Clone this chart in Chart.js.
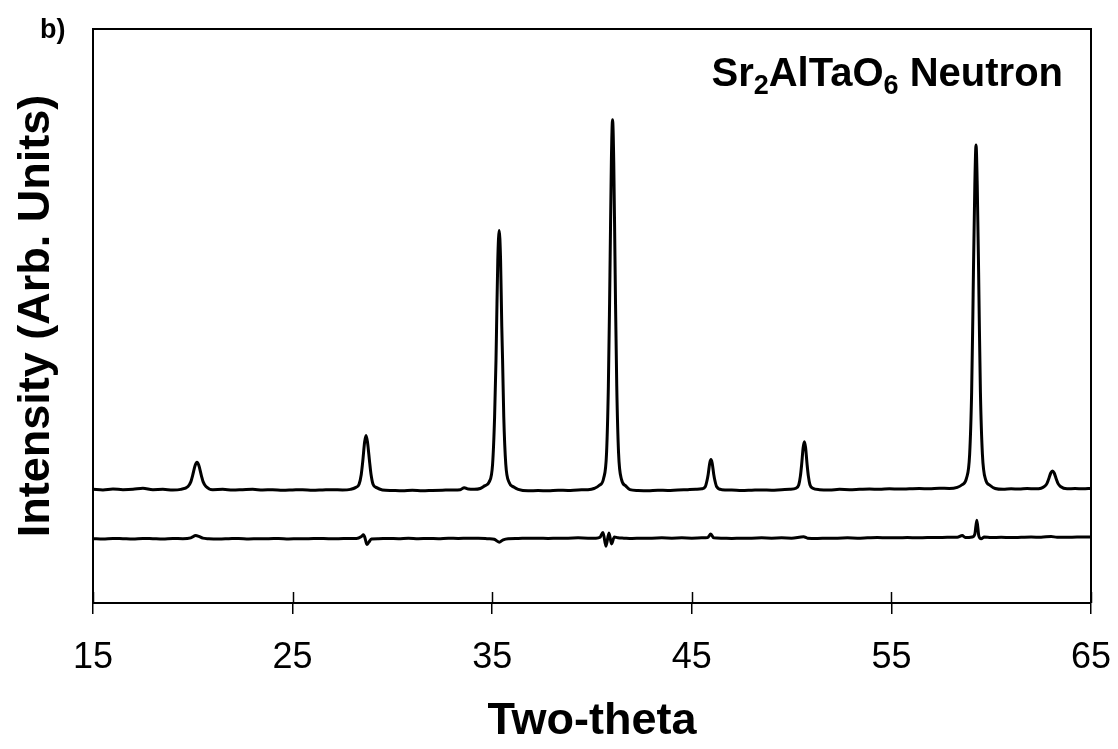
<!DOCTYPE html>
<html>
<head>
<meta charset="utf-8">
<script src="https://cdn.jsdelivr.net/npm/chart.js@4.4.0/dist/chart.umd.min.js"></script>
<style>
  html, body { margin: 0; padding: 0; background: #fff; }
  #wrap { width: 1118px; height: 749px; }
</style>
</head>
<body>
<div id="wrap"><canvas id="xrd"></canvas></div>
<script>
// Data (two-theta in degrees, intensity in arbitrary units)
const xTicks = [15, 25, 35, 45, 55, 65];

// observed neutron pattern
const obsX = [
  15.0, 15.5, 16.0, 16.5, 17.0, 17.5, 18.0, 18.5, 19.0, 19.4,
  19.76, 19.90, 19.99, 20.12, 20.21, 20.30, 20.43, 20.52, 20.66,
  21.0, 21.5, 22.0, 22.5, 23.0, 23.5, 24.0, 24.5, 25.0, 25.5, 26.0, 26.5, 27.0, 27.5, 27.9,
  28.15, 28.33, 28.44, 28.51, 28.61, 28.68, 28.75, 28.86, 28.93, 29.03, 29.21,
  29.5, 30.0, 30.5, 31.0, 31.5, 32.0, 32.5, 33.0, 33.4, 33.6, 33.8, 34.1, 34.4,
  34.62, 34.85, 35.02, 35.12, 35.19, 35.22, 35.28, 35.35, 35.42, 35.48, 35.52, 35.58, 35.68, 35.85, 36.08,
  36.3, 36.8, 37.3, 37.8, 38.3, 38.8, 39.3, 39.8, 40.1,
  40.37, 40.58, 40.73, 40.82, 40.88, 40.91, 40.97, 41.03, 41.09, 41.15, 41.18, 41.24, 41.33, 41.48, 41.69,
  41.9, 42.3, 42.8, 43.3, 43.8, 44.3, 44.8, 45.2, 45.5,
  45.68, 45.76, 45.82, 45.90, 45.96, 46.02, 46.10, 46.16, 46.24,
  46.5, 47.0, 47.5, 48.0, 48.5, 49.0, 49.5, 49.9,
  50.22, 50.36, 50.44, 50.50, 50.58, 50.64, 50.70, 50.78, 50.84, 50.92, 51.06,
  51.4, 51.9, 52.4, 52.9, 53.4, 53.9, 54.4, 54.9, 55.4, 55.9, 56.4, 56.9, 57.4, 57.9, 58.3,
  58.54, 58.76, 58.92, 59.02, 59.08, 59.11, 59.18, 59.24, 59.30, 59.37, 59.40, 59.46, 59.56, 59.72, 59.94,
  60.2, 60.6, 61.0, 61.4, 61.8, 62.2, 62.5,
  62.67, 62.79, 62.87, 62.99, 63.07, 63.15, 63.27, 63.35, 63.47,
  63.8, 64.2, 64.6, 65.0
];
const obsY = [
  19.8, 19.7, 19.85, 19.75, 19.8, 20.0, 19.75, 19.8, 19.7, 19.8,
  20.3, 21.1, 22.2, 24.0, 24.5, 24.0, 22.2, 21.1, 20.3,
  19.75, 19.8, 19.7, 19.75, 19.8, 19.7, 19.75, 19.65, 19.7, 19.75, 19.65, 19.7, 19.75, 19.7, 19.8,
  20.1, 20.7, 22.4, 24.5, 28.1, 29.2, 28.1, 24.5, 22.4, 20.7, 20.1,
  19.7, 19.6, 19.55, 19.65, 19.55, 19.6, 19.65, 19.7, 19.75, 20.1, 19.85, 19.8, 19.95,
  20.4, 21.1, 24.2, 32.4, 42.3, 48.2, 59.7, 64.9, 59.7, 48.2, 42.3, 32.4, 24.2, 21.0, 20.2,
  19.8, 19.55, 19.6, 19.55, 19.65, 19.6, 19.7, 19.75, 19.95,
  20.5, 21.7, 26.2, 37.8, 52.0, 60.4, 76.8, 84.2, 76.8, 60.4, 52.0, 37.8, 26.2, 21.5, 20.4,
  19.75, 19.6, 19.55, 19.65, 19.6, 19.7, 19.75, 19.8, 19.9,
  20.3, 21.3, 22.4, 24.4, 25.0, 24.4, 22.4, 21.3, 20.3,
  19.75, 19.7, 19.6, 19.65, 19.7, 19.65, 19.75, 19.8,
  20.0, 20.6, 22.1, 24.0, 27.1, 28.1, 27.1, 24.0, 22.1, 20.6, 20.0,
  19.75, 19.7, 19.8, 19.75, 19.8, 19.85, 19.8, 19.9, 19.85, 19.9, 19.95, 19.9, 20.0, 19.95, 20.15,
  20.6, 21.7, 25.9, 36.7, 49.9, 57.6, 72.9, 79.8, 72.9, 57.6, 49.9, 36.7, 25.9, 21.5, 20.5,
  19.95, 19.8, 19.9, 19.85, 19.95, 19.9, 20.0,
  20.3, 20.8, 21.5, 22.7, 23.0, 22.7, 21.5, 20.8, 20.3,
  19.9, 19.95, 19.9, 19.95
];

// observed minus calculated
const diffX = [
  15.0, 15.5, 16.0, 16.5, 17.0, 17.5, 18.0, 18.5, 19.0, 19.5, 19.9, 20.15, 20.3, 20.5, 20.8,
  21.3, 21.8, 22.3, 22.8, 23.3, 23.8, 24.3, 24.8, 25.3, 25.8, 26.3, 26.8, 27.3, 27.8, 28.2,
  28.45, 28.55, 28.63, 28.72, 28.82, 28.95,
  29.3, 29.8, 30.3, 30.8, 31.3, 31.8, 32.3, 32.8, 33.3, 33.8, 34.3, 34.8,
  35.1, 35.35, 35.55, 35.8,
  36.3, 36.8, 37.3, 37.8, 38.3, 38.8, 39.3, 39.8, 40.2,
  40.4, 40.55, 40.7, 40.85, 40.98, 41.12, 41.3,
  41.6, 42.0, 42.5, 43.0, 43.5, 44.0, 44.5, 45.0, 45.5, 45.8, 45.95, 46.1,
  46.5, 47.0, 47.5, 48.0, 48.5, 49.0, 49.5, 50.0, 50.6, 50.8,
  51.3, 51.8, 52.3, 52.8, 53.3, 53.8, 54.3, 54.8, 55.3, 55.8, 56.3, 56.8, 57.3, 57.8, 58.3,
  58.55, 58.7, 59.05, 59.18, 59.28, 59.38, 59.5, 59.65,
  60.0, 60.5, 61.0, 61.5, 62.0, 62.5, 63.0, 63.3, 63.8, 64.3, 65.0
];
const diffY = [
  11.2, 11.15, 11.25, 11.2, 11.15, 11.25, 11.2, 11.15, 11.25, 11.2, 11.35, 11.75, 11.6, 11.3, 11.2,
  11.15, 11.2, 11.25, 11.15, 11.2, 11.2, 11.25, 11.15, 11.2, 11.2, 11.25, 11.2, 11.2, 11.25, 11.25,
  11.6, 11.9, 11.3, 10.2, 10.6, 11.15,
  11.2, 11.25, 11.2, 11.3, 11.2, 11.25, 11.2, 11.3, 11.25, 11.3, 11.3, 11.2,
  11.1, 10.6, 11.0, 11.2,
  11.25, 11.3, 11.3, 11.25, 11.3, 11.3, 11.35, 11.3, 11.3,
  11.45, 12.3, 9.9, 12.2, 10.3, 11.5, 11.35,
  11.3, 11.25, 11.3, 11.3, 11.35, 11.3, 11.35, 11.3, 11.35, 11.4, 12.0, 11.35,
  11.3, 11.25, 11.3, 11.3, 11.35, 11.3, 11.35, 11.3, 11.55, 11.3,
  11.25, 11.3, 11.3, 11.35, 11.3, 11.35, 11.4, 11.35, 11.35, 11.4, 11.35, 11.4, 11.4, 11.45, 11.45,
  11.75, 11.4, 11.5, 12.0, 14.4, 11.7, 11.2, 11.5,
  11.4, 11.45, 11.4, 11.45, 11.5, 11.45, 11.6, 11.45, 11.45, 11.5, 11.5
];

const toPoints = (xs, ys) => xs.map((x, i) => ({ x: x, y: ys[i] }));

// frame top/right, tick marks above the axis, and the chemical-formula label
const extrasPlugin = {
  id: 'extras',
  afterDraw(chart) {
    const ctx = chart.ctx;
    const a = chart.chartArea;
    const xs = chart.scales.x;
    ctx.save();
    ctx.strokeStyle = '#000';
    ctx.lineWidth = 2;
    ctx.beginPath();
    ctx.moveTo(a.left, a.top);
    ctx.lineTo(a.right, a.top);
    ctx.lineTo(a.right, a.bottom);
    ctx.stroke();

    ctx.lineWidth = 1.5;
    xTicks.forEach(v => {
      const px = Math.round(xs.getPixelForValue(v)) + 0.5;
      ctx.beginPath();
      ctx.moveTo(px, a.bottom - 11);
      ctx.lineTo(px, a.bottom);
      ctx.stroke();
    });

    ctx.fillStyle = '#000';
    ctx.textBaseline = 'alphabetic';
    ctx.textAlign = 'left';
    ctx.font = 'bold 27px "Liberation Sans", Arial, sans-serif';
    ctx.fillText('b)', 40, 38);

    // Sr2AlTaO6 Neutron with subscripts
    const big = 'bold 40px "Liberation Sans", Arial, sans-serif';
    const small = 'bold 27px "Liberation Sans", Arial, sans-serif';
    const parts = [['Sr', big, 0], ['2', small, 8], ['AlTaO', big, 0], ['6', small, 8], [' Neutron', big, 0]];
    let total = 0;
    parts.forEach(p => { ctx.font = p[1]; total += ctx.measureText(p[0]).width; });
    let x = 1063 - total;
    parts.forEach(p => {
      ctx.font = p[1];
      ctx.fillText(p[0], x, 86 + p[2]);
      x += ctx.measureText(p[0]).width;
    });
    ctx.restore();
  }
};

const chart = new Chart(document.getElementById('xrd').getContext('2d'), {
  type: 'line',
  data: {
    datasets: [
      {
        label: 'Observed',
        data: toPoints(obsX, obsY),
        borderColor: '#000',
        borderWidth: 3,
        pointRadius: 0,
        fill: false,
        cubicInterpolationMode: 'monotone'
      },
      {
        label: 'Difference',
        data: toPoints(diffX, diffY),
        borderColor: '#000',
        borderWidth: 3,
        pointRadius: 0,
        fill: false,
        cubicInterpolationMode: 'monotone'
      }
    ]
  },
  options: {
    responsive: true,
    maintainAspectRatio: false,
    animation: false,
    layout: { padding: { left: 0, top: 29, right: 27, bottom: 0 } },
    plugins: {
      legend: { display: false },
      tooltip: { enabled: false }
    },
    scales: {
      x: {
        type: 'linear',
        min: 15,
        max: 65,
        afterBuildTicks: s => { s.ticks = xTicks.map(v => ({ value: v })); },
        afterFit: s => { s.height = 146; s.paddingLeft = 0; s.paddingRight = 0; },
        border: { display: true, color: '#000', width: 2 },
        grid: { display: true, drawOnChartArea: false, drawTicks: true, tickLength: 11, color: '#000', lineWidth: 1.5 },
        ticks: {
          color: '#000',
          padding: 22,
          maxRotation: 0,
          font: { family: '"Liberation Sans", Arial, sans-serif', size: 36 }
        },
        title: {
          display: true,
          text: 'Two-theta',
          color: '#000',
          padding: { top: 0, bottom: 0 },
          font: { family: '"Liberation Sans", Arial, sans-serif', size: 45, weight: 'bold' }
        }
      },
      y: {
        type: 'linear',
        min: 0,
        max: 100,
        afterFit: s => { s.width = 93; },
        border: { display: true, color: '#000', width: 2 },
        grid: { display: false },
        ticks: { display: false },
        title: {
          display: true,
          text: 'Intensity (Arb. Units)',
          color: '#000',
          padding: { top: 10, bottom: 0 },
          font: { family: '"Liberation Sans", Arial, sans-serif', size: 45, weight: 'bold' }
        }
      }
    }
  },
  plugins: [extrasPlugin]
});
</script>
</body>
</html>
